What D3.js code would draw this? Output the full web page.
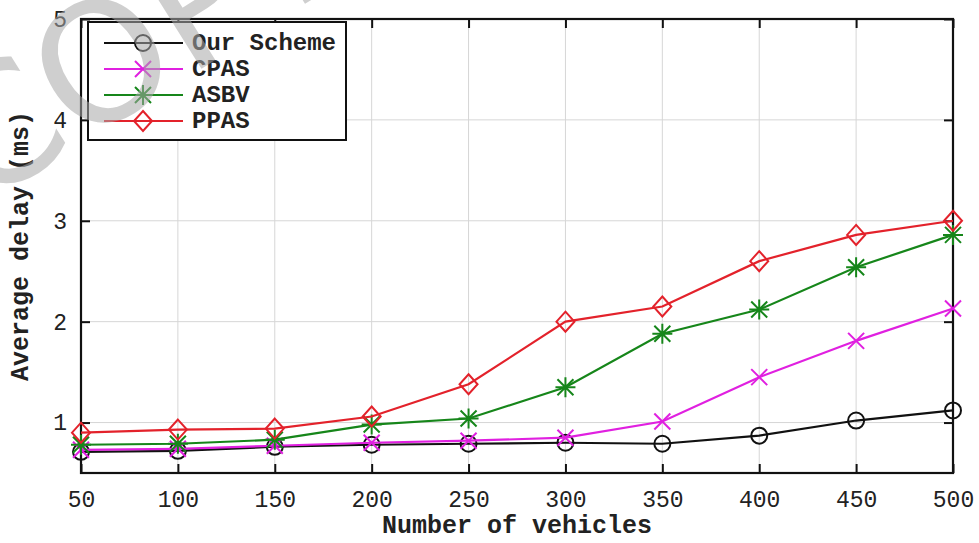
<!DOCTYPE html>
<html>
<head>
<meta charset="utf-8">
<script src="https://cdn.jsdelivr.net/npm/d3@7"></script>
<style>
  body { margin: 0; background: #fff; }
  svg text { font-family: "Liberation Mono", "DejaVu Sans Mono", monospace; }
</style>
</head>
<body>
<script>
const vehicles = [50, 100, 150, 200, 250, 300, 350, 400, 450, 500];
const ourScheme = [0.71, 0.72, 0.76, 0.78, 0.79, 0.80, 0.79, 0.87, 1.02, 1.12];
const cpas = [0.73, 0.74, 0.77, 0.80, 0.82, 0.85, 1.01, 1.45, 1.81, 2.13];
const asbv = [0.78, 0.79, 0.83, 0.98, 1.04, 1.35, 1.88, 2.12, 2.54, 2.86];
const ppas = [0.90, 0.93, 0.94, 1.06, 1.38, 2.00, 2.15, 2.60, 2.86, 3.00];
const yTicks = [1, 2, 3, 4, 5];

const series = [
  { name: 'Our Scheme', values: ourScheme, color: '#111111', marker: 'circle' },
  { name: 'CPAS', values: cpas, color: '#e020e0', marker: 'x' },
  { name: 'ASBV', values: asbv, color: '#16861a', marker: 'star' },
  { name: 'PPAS', values: ppas, color: '#e3222b', marker: 'diamond' }
];

const chartWidth = 979;
const chartHeight = 543;
const margin = { top: 19, right: 26, bottom: 70, left: 81 };
const width = chartWidth - margin.left - margin.right;
const height = chartHeight - margin.top - margin.bottom;

const x = d3.scaleLinear().domain([50, 500]).range([0, width]);
const y = d3.scaleLinear().domain([0.5, 5]).range([height, 0]);

const svg = d3.select('body').append('svg')
  .attr('width', chartWidth)
  .attr('height', chartHeight);

const g = svg.append('g')
  .attr('transform', 'translate(' + margin.left + ',' + margin.top + ')');

// grid
g.append('g').selectAll('line').data(vehicles).enter().append('line')
  .attr('x1', d => x(d)).attr('x2', d => x(d))
  .attr('y1', 0).attr('y2', height)
  .attr('stroke', '#d6d6d6').attr('stroke-width', 1);
g.append('g').selectAll('line').data(yTicks).enter().append('line')
  .attr('x1', 0).attr('x2', width)
  .attr('y1', d => y(d)).attr('y2', d => y(d))
  .attr('stroke', '#d6d6d6').attr('stroke-width', 1);

// axes, ticks pointing inward
const tickLen = 9;
const xBottom = d3.axisBottom(x).tickValues(vehicles).tickSize(-tickLen).tickPadding(tickLen + 9);
const xTop = d3.axisTop(x).tickValues(vehicles).tickSize(-tickLen).tickFormat('');
const yLeft = d3.axisLeft(y).tickValues(yTicks).tickSize(-tickLen).tickPadding(tickLen + 5)
  .tickFormat(d3.format('d'));
const yRight = d3.axisRight(y).tickValues(yTicks).tickSize(-tickLen).tickFormat('');

function styleAxis(sel) {
  sel.select('.domain').remove();
  sel.selectAll('.tick line').attr('stroke', '#111').attr('stroke-width', 2);
  sel.selectAll('text').attr('fill', '#222').attr('font-size', 23)
    .style('font-family', '"Liberation Mono", monospace');
}

g.append('g').attr('transform', 'translate(0,' + height + ')').call(xBottom).call(styleAxis);
g.append('g').call(xTop).call(styleAxis);
g.append('g').call(yLeft).call(styleAxis);
g.append('g').attr('transform', 'translate(' + width + ',0)').call(yRight).call(styleAxis);

// frame
g.append('rect')
  .attr('width', width).attr('height', height)
  .attr('fill', 'none').attr('stroke', '#111').attr('stroke-width', 2.2);

// lines
const line = d3.line()
  .x((d, i) => x(vehicles[i]))
  .y(d => y(d));

function drawMarker(sel, type, color) {
  if (type === 'circle') {
    sel.append('circle').attr('r', 8).attr('fill', 'none')
      .attr('stroke', color).attr('stroke-width', 2);
  } else if (type === 'diamond') {
    sel.append('path').attr('d', 'M0,-10L9,0L0,10L-9,0Z').attr('fill', 'none')
      .attr('stroke', color).attr('stroke-width', 2);
  } else if (type === 'x') {
    sel.append('path').attr('d', 'M-8,-8L8,8M-8,8L8,-8').attr('fill', 'none')
      .attr('stroke', color).attr('stroke-width', 2);
  } else {
    sel.append('path').attr('d', 'M-8,-8L8,8M-8,8L8,-8M0,-10L0,10M-10,0L10,0').attr('fill', 'none')
      .attr('stroke', color).attr('stroke-width', 2);
  }
}

series.forEach(s => {
  g.append('path')
    .datum(s.values)
    .attr('d', line)
    .attr('fill', 'none')
    .attr('stroke', s.color)
    .attr('stroke-width', 2.2);
  g.append('g').selectAll('g').data(s.values).enter().append('g')
    .attr('transform', (d, i) => 'translate(' + x(vehicles[i]) + ',' + y(d) + ')')
    .each(function () { drawMarker(d3.select(this), s.marker, s.color); });
});

// axis labels
svg.append('text')
  .attr('x', margin.left + width / 2)
  .attr('y', 533)
  .attr('text-anchor', 'middle')
  .attr('font-size', 25)
  .attr('font-weight', 'bold')
  .attr('fill', '#222')
  .text('Number of vehicles');

svg.append('text')
  .attr('transform', 'translate(28,' + (margin.top + height / 2) + ') rotate(-90)')
  .attr('text-anchor', 'middle')
  .attr('font-size', 25)
  .attr('font-weight', 'bold')
  .attr('fill', '#222')
  .text('Average delay (ms)');

// legend
const legend = svg.append('g').attr('transform', 'translate(88,22)');
legend.append('rect')
  .attr('width', 258).attr('height', 118)
  .attr('fill', '#fff').attr('stroke', '#111').attr('stroke-width', 2);

const item = legend.selectAll('.item').data(series).enter().append('g')
  .attr('class', 'item')
  .attr('transform', (d, i) => 'translate(0,' + (21 + i * 26) + ')');
item.append('line')
  .attr('x1', 16).attr('x2', 95)
  .attr('stroke', d => d.color).attr('stroke-width', 2);
item.append('g').attr('transform', 'translate(55,0)')
  .each(function (d) { drawMarker(d3.select(this), d.marker, d.color); });
item.append('text')
  .attr('x', 104).attr('y', 7)
  .attr('font-size', 24)
  .attr('font-weight', 'bold')
  .attr('fill', '#222')
  .text(d => d.name);

// faint watermark in the top-left corner
svg.append('text')
  .attr('transform', 'translate(-20,207) rotate(-32)')
  .attr('font-size', 165)
  .attr('fill', '#a8a8a8')
  .attr('opacity', 0.55)
  .style('font-family', '"DejaVu Sans", sans-serif')
  .text('COPY');
</script>
</body>
</html>
